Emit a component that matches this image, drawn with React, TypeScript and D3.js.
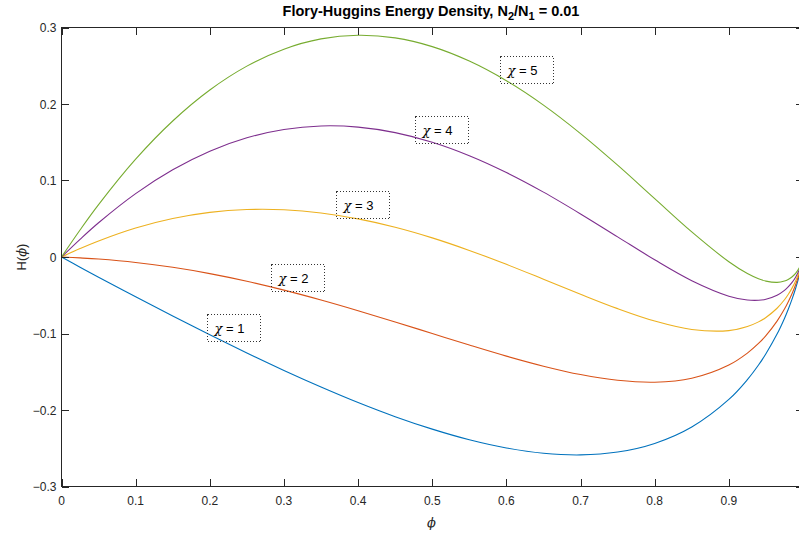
import React, { useEffect, useRef } from 'react';
import * as d3 from 'd3';

// volume fraction samples and H(phi) for each chi
const phi = [0, 0.025, 0.05, 0.1, 0.15, 0.2, 0.25, 0.3, 0.35, 0.4, 0.45, 0.5, 0.55, 0.6, 0.65, 0.7, 0.75, 0.8, 0.85, 0.9, 0.925, 0.94, 0.95, 0.965, 0.975, 0.98, 0.985, 0.99, 0.995, 0.999, 1];
const chi1 = [0, -0.0134, -0.0265, -0.0521, -0.0772, -0.1017, -0.1255, -0.1483, -0.1699, -0.1902, -0.2087, -0.2250, -0.2389, -0.2496, -0.2565, -0.2587, -0.2550, -0.2437, -0.2222, -0.1862, -0.1603, -0.1412, -0.1265, -0.1008, -0.0803, -0.0686, -0.0558, -0.0412, -0.0241, -0.0064, 0];
const chi2 = [0, -0.0012, -0.0027, -0.0071, -0.0135, -0.0217, -0.0317, -0.0433, -0.0562, -0.0702, -0.0849, -0.1000, -0.1151, -0.1296, -0.1427, -0.1537, -0.1612, -0.1637, -0.1585, -0.1412, -0.1256, -0.1130, -0.1028, -0.0839, -0.0681, -0.0588, -0.0484, -0.0363, -0.0216, -0.0059, 0];
const chi3 = [0, 0.0110, 0.0210, 0.0379, 0.0503, 0.0583, 0.0620, 0.0617, 0.0576, 0.0498, 0.0389, 0.0250, 0.0086, -0.0096, -0.0290, -0.0487, -0.0675, -0.0837, -0.0947, -0.0962, -0.0909, -0.0848, -0.0790, -0.0670, -0.0559, -0.0490, -0.0410, -0.0313, -0.0191, -0.0054, 0];
const chi4 = [0, 0.0231, 0.0448, 0.0829, 0.1140, 0.1383, 0.1558, 0.1667, 0.1713, 0.1698, 0.1626, 0.1500, 0.1324, 0.1104, 0.0848, 0.0563, 0.0263, -0.0037, -0.0310, -0.0512, -0.0562, -0.0566, -0.0553, -0.0501, -0.0437, -0.0392, -0.0336, -0.0264, -0.0166, -0.0049, 0];
const chi5 = [0, 0.0353, 0.0685, 0.1279, 0.1778, 0.2183, 0.2495, 0.2717, 0.2851, 0.2898, 0.2864, 0.2750, 0.2561, 0.2304, 0.1985, 0.1613, 0.1200, 0.0763, 0.0328, -0.0062, -0.0216, -0.0284, -0.0315, -0.0332, -0.0315, -0.0294, -0.0262, -0.0214, -0.0141, -0.0044, 0];

const series = [chi1, chi2, chi3, chi4, chi5];
const chiLabels = ['1', '2', '3', '4', '5'];
const xTicks = [0, 0.1, 0.2, 0.3, 0.4, 0.5, 0.6, 0.7, 0.8, 0.9];
const yTicks = [-0.3, -0.2, -0.1, 0, 0.1, 0.2, 0.3];

const colors = ['#0072BD', '#D95319', '#EDB120', '#7E2F8E', '#77AC30'];
// top-left corner of each text box, in data units
const boxAt: [number, number][] = [
  [0.1962, -0.0745],
  [0.2825, -0.0092],
  [0.370, 0.0863],
  [0.4767, 0.1843],
  [0.5913, 0.2627],
];

const W = 799;
const H = 536;
const font = '"Liberation Sans", Arial, Helvetica, sans-serif';

const App = () => {
  const svgRef = useRef<SVGSVGElement>(null);

  useEffect(() => {
    if (!svgRef.current) return;
    const svg = d3.select(svgRef.current);
    svg.selectAll('*').remove();

    const x = d3.scaleLinear().domain([0, 1]).range([61.5, 803]);
    const y = d3.scaleLinear().domain([-0.3, 0.3]).range([486.5, 27.5]);
    const [x0, x1] = x.range();
    const [y0, y1] = y.range();

    svg.append('rect').attr('width', W).attr('height', H).attr('fill', '#fff');

    const clip = svg.append('clipPath').attr('id', 'plot-clip');
    clip.append('rect').attr('x', x0).attr('y', y1).attr('width', x1 - x0).attr('height', y0 - y1);

    // curves
    const line = d3.line<number>()
      .x((_, i) => x(phi[i]))
      .y(d => y(d))
      .curve(d3.curveCatmullRom.alpha(0.5));

    const curves = svg.append('g').attr('clip-path', 'url(#plot-clip)');
    series.forEach((s, i) => {
      curves.append('path')
        .attr('d', line(s))
        .attr('fill', 'none')
        .attr('stroke', colors[i])
        .attr('stroke-width', 1.1);
    });

    // axes box + ticks (inward, MATLAB style)
    const axisColor = '#262626';
    const tl = 7.5;
    const ax = svg.append('g').attr('stroke', axisColor).attr('stroke-width', 1).attr('shape-rendering', 'crispEdges');
    ax.append('rect').attr('x', x0).attr('y', y1).attr('width', x1 - x0).attr('height', y0 - y1).attr('fill', 'none');
    xTicks.forEach(t => {
      const px = Math.round(x(t)) + 0.5;
      ax.append('line').attr('x1', px).attr('x2', px).attr('y1', y0).attr('y2', y0 - tl);
      ax.append('line').attr('x1', px).attr('x2', px).attr('y1', y1).attr('y2', y1 + tl);
    });
    yTicks.forEach(t => {
      const py = Math.round(y(t)) + 0.5;
      ax.append('line').attr('x1', x0).attr('x2', x0 + tl).attr('y1', py).attr('y2', py);
      ax.append('line').attr('x1', x1).attr('x2', x1 - tl).attr('y1', py).attr('y2', py);
    });

    const fmt = d3.format('');
    svg.append('g').selectAll('text').data(xTicks).enter().append('text')
      .attr('x', d => x(d)).attr('y', y0 + 18)
      .attr('text-anchor', 'middle')
      .attr('font-family', font).attr('font-size', 12).attr('fill', axisColor)
      .text(d => fmt(d));
    svg.append('g').selectAll('text').data(yTicks).enter().append('text')
      .attr('x', x0 - 5).attr('y', d => y(d) + 4.5)
      .attr('text-anchor', 'end')
      .attr('font-family', font).attr('font-size', 12).attr('fill', axisColor)
      .text(d => fmt(d));

    // axis labels
    svg.append('text')
      .attr('x', 431.5).attr('y', 527)
      .attr('text-anchor', 'middle')
      .attr('font-family', '"DejaVu Serif", serif').attr('font-style', 'italic')
      .attr('font-size', 13).attr('fill', axisColor)
      .text('\u03D5');

    const yl = svg.append('text')
      .attr('transform', `translate(26, ${y(0)}) rotate(-90)`)
      .attr('text-anchor', 'middle')
      .attr('font-family', font).attr('font-size', 13).attr('fill', axisColor);
    yl.append('tspan').text('H(');
    yl.append('tspan').attr('font-family', '"DejaVu Serif", serif').attr('font-style', 'italic').text('\u03D5');
    yl.append('tspan').text(')');

    // title
    const title = svg.append('text')
      .attr('x', 431).attr('y', 16)
      .attr('text-anchor', 'middle')
      .attr('font-family', font).attr('font-size', 14.5).attr('font-weight', 'bold').attr('fill', '#000');
    title.append('tspan').text('Flory-Huggins Energy Density, N');
    title.append('tspan').attr('font-size', 11).attr('dy', 4).text('2');
    title.append('tspan').attr('dy', -4).text('/N');
    title.append('tspan').attr('font-size', 11).attr('dy', 4).text('1');
    title.append('tspan').attr('dy', -4).text(' = 0.01');

    // text boxes
    chiLabels.forEach((c, i) => {
      const bx = Math.round(x(boxAt[i][0])) + 0.5;
      const by = Math.round(y(boxAt[i][1])) + 0.5;
      const g = svg.append('g');
      g.append('rect')
        .attr('x', bx).attr('y', by).attr('width', 53).attr('height', 27)
        .attr('fill', 'none').attr('stroke', '#333').attr('stroke-width', 1)
        .attr('stroke-dasharray', '1,2').attr('shape-rendering', 'crispEdges');
      const t = g.append('text')
        .attr('x', bx + 7).attr('y', by + 18)
        .attr('font-family', font).attr('font-size', 13).attr('fill', '#000');
      t.append('tspan').attr('font-family', '"DejaVu Serif", serif').attr('font-style', 'italic').text('\u03C7');
      t.append('tspan').text(` = ${c}`);
    });
  }, []);

  return (
    <svg
      ref={svgRef}
      width={W}
      height={H}
      style={{ position: 'absolute', left: 0, top: 0, display: 'block' }}
    />
  );
};

export default App;
